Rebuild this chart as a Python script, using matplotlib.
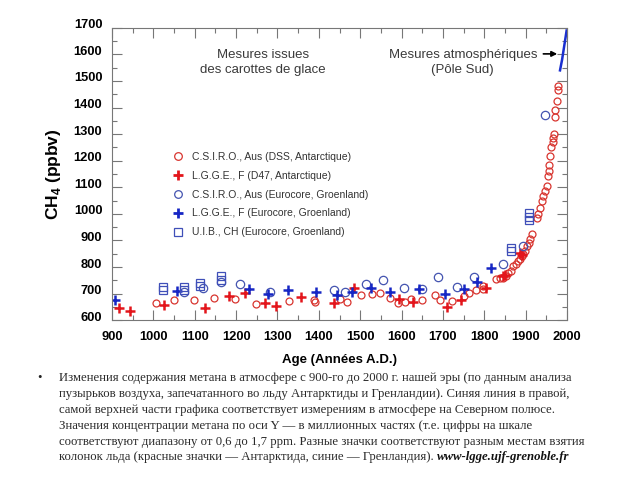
import matplotlib
matplotlib.use('Agg')
import matplotlib.pyplot as plt
from matplotlib.lines import Line2D
from matplotlib.transforms import ScaledTranslation

plt.rcParams['font.family'] = ['Liberation Sans', 'DejaVu Sans']
plt.rcParams['mathtext.fontset'] = 'custom'
plt.rcParams['mathtext.rm'] = 'Liberation Sans'
plt.rcParams['mathtext.bf'] = 'Liberation Sans:bold'

# ── data ──
csiro_dss_x = [1006, 1049, 1098, 1147, 1197, 1248, 1329, 1389, 1391, 1450, 1467, 1502,
               1529, 1549, 1572, 1592, 1608, 1622, 1650, 1681, 1693, 1723, 1751, 1763,
               1781, 1796, 1796, 1828, 1838, 1846, 1852, 1858, 1864, 1870, 1876, 1882,
               1886, 1890, 1894, 1898, 1904, 1908, 1911, 1915, 1927, 1931, 1935, 1939,
               1943, 1947, 1951, 1955, 1956, 1957, 1959, 1962, 1965, 1967, 1969, 1970,
               1972, 1975, 1977, 1979]
csiro_dss_y = [664, 676, 676, 685, 681, 662, 672, 676, 670, 680, 669, 694,
               697, 704, 682, 664, 669, 681, 675, 694, 675, 673, 691, 701,
               714, 716, 730, 756, 757, 760, 765, 779, 785, 803, 812, 822,
               830, 841, 850, 860, 879, 890, 904, 923, 985, 998, 1023, 1048,
               1066, 1085, 1104, 1141, 1160, 1185, 1218, 1250, 1270, 1287, 1300, 1365,
               1392, 1424, 1465, 1482]

lgge_d47_x = [917, 943, 1026, 1125, 1183, 1222, 1270, 1296, 1357, 1437, 1486, 1594,
              1627, 1711, 1744, 1803, 1846, 1851, 1887, 1892]
lgge_d47_y = [644, 635, 656, 647, 691, 704, 663, 654, 689, 666, 722, 679,
              670, 650, 676, 721, 767, 770, 852, 846]

csiro_euro_x = [1074, 1121, 1163, 1209, 1282, 1437, 1463, 1513, 1556, 1606, 1649, 1689,
                1733, 1775, 1844, 1893, 1947]
csiro_euro_y = [706, 722, 745, 735, 707, 712, 707, 735, 751, 720, 716, 762,
                726, 762, 810, 879, 1372]

lgge_euro_x = [907, 1056, 1230, 1276, 1325, 1393, 1445, 1479, 1526, 1572, 1641, 1705,
               1751, 1783, 1816]
lgge_euro_y = [676, 710, 719, 697, 712, 706, 695, 707, 720, 707, 716, 697,
               716, 744, 798]

uib_x = [1024, 1024, 1074, 1074, 1113, 1113, 1163, 1163, 1864, 1864, 1909, 1909, 1909]
uib_y = [715, 726, 712, 724, 728, 740, 752, 765, 861, 873, 978, 990, 1002]

atmos_x = [1983, 1988, 1993, 1999]
atmos_y = [1540, 1580, 1630, 1690]

legend_labels = ['C.S.I.R.O., Aus (DSS, Antarctique)',
                 'L.G.G.E., F (D47, Antarctique)',
                 'C.S.I.R.O., Aus (Eurocore, Groenland)',
                 'L.G.G.E., F (Eurocore, Groenland)',
                 'U.I.B., CH (Eurocore, Groenland)']

caption_lines = [
    'Изменения содержания метана в атмосфере с 900-го до 2000 г. нашей эры (по данным анализа',
    'пузырьков воздуха, запечатанного во льду Антарктиды и Гренландии). Синяя линия в правой,',
    'самой верхней части графика соответствует измерениям в атмосфере на Северном полюсе.',
    'Значения концентрации метана по оси Y — в миллионных частях (т.е. цифры на шкале',
    'соответствуют диапазону от 0,6 до 1,7 ppm. Разные значки соответствуют разным местам взятия',
    'колонок льда (красные значки — Антарктида, синие — Гренландия). ',
]
caption_link = 'www-lgge.ujf-grenoble.fr'

RED_O = '#d8352f'
RED_P = '#e3151b'
BLUE_O = '#4454b0'
BLUE_P = '#1626c4'
BLUE_S = '#3f4fb8'

fig = plt.figure(figsize=(6.4, 4.8), dpi=100)
ax = fig.add_axes([0.175, 0.333, 0.711, 0.609])

ax.plot(csiro_dss_x, csiro_dss_y, 'o', ms=5, mfc='none', mec=RED_O, mew=0.9)
ax.plot(lgge_d47_x, lgge_d47_y, '+', ms=7, mec=RED_P, mew=1.8)
ax.plot(csiro_euro_x, csiro_euro_y, 'o', ms=6, mfc='none', mec=BLUE_O, mew=0.9)
ax.plot(lgge_euro_x, lgge_euro_y, '+', ms=7, mec=BLUE_P, mew=1.8)
ax.plot(uib_x, uib_y, 's', ms=5.5, mfc='none', mec=BLUE_S, mew=0.9)
ax.plot(atmos_x, atmos_y, '-', color='#1a2fd0', lw=1.8)

ax.set_xlim(900, 2000)
ax.set_ylim(600, 1700)
ax.set_xticks(range(900, 2001, 100))
ax.set_yticks(range(600, 1701, 100))
ax.set_xticks(range(950, 2000, 100), minor=True)
ax.set_yticks(range(650, 1700, 100), minor=True)
ax.tick_params(which='both', direction='in', top=True, right=True,
               color='#777777', width=0.8)
ax.tick_params(which='major', length=7, labelsize=9.3)
ax.tick_params(axis='x', which='major', pad=8)
ax.tick_params(axis='y', which='major', pad=7)
ax.tick_params(which='minor', length=3.5)
for lab in ax.get_xticklabels() + ax.get_yticklabels():
    lab.set_fontweight('bold')
# y labels sit slightly above their ticks in the reference
for tk in ax.yaxis.get_major_ticks():
    tk.label1.set_transform(tk.label1.get_transform() +
                            ScaledTranslation(0, 0.04, fig.dpi_scale_trans))
for sp in ax.spines.values():
    sp.set_color('#777777')
    sp.set_linewidth(0.8)

ax.set_xlabel('Age (Années A.D.)', fontsize=9.5, fontweight='bold', labelpad=8)
ax.set_ylabel(r'CH$_\mathbf{4}$ (ppbv)', fontsize=12.5, fontweight='bold', labelpad=8)

# legend
handles = [
    Line2D([], [], ls='none', marker='o', ms=5.5, mfc='none', mec=RED_O, mew=0.9),
    Line2D([], [], ls='none', marker='+', ms=7, mec=RED_P, mew=2),
    Line2D([], [], ls='none', marker='o', ms=5.5, mfc='none', mec=BLUE_O, mew=0.9),
    Line2D([], [], ls='none', marker='+', ms=7, mec=BLUE_P, mew=2),
    Line2D([], [], ls='none', marker='s', ms=6, mfc='none', mec=BLUE_S, mew=0.9),
]
leg = ax.legend(handles, legend_labels, loc='upper left', bbox_to_anchor=(0.124, 0.59),
                frameon=False, fontsize=7.5, labelspacing=0.85, handlelength=1.0,
                handletextpad=0.9, borderaxespad=0)
for t in leg.get_texts():
    t.set_color('#333333')

# annotations
ax.text(1265, 1570, 'Mesures issues\ndes carottes de glace', ha='center', va='center',
        fontsize=9.5, color='#3a3a3a', linespacing=1.4)
ax.text(1748, 1570, 'Mesures atmosphériques\n(Pôle Sud)', ha='center', va='center',
        fontsize=9.5, color='#3a3a3a', linespacing=1.4)
ax.annotate('', xy=(1983, 1602), xytext=(1936, 1602),
            arrowprops=dict(arrowstyle='-|>', color='black', lw=1.2, mutation_scale=8))

# caption below
serif = ['Liberation Serif', 'DejaVu Serif']
fig.text(37 / 640, 1 - 378 / 480, '•', fontsize=9, family=serif, color='#222222',
         va='center')
line_y = [378, 394, 410, 426, 442, 457]
last = None
for txt, y in zip(caption_lines, line_y):
    last = fig.text(59 / 640, 1 - y / 480, txt, fontsize=9.2, family=serif,
                    color='#2a2a2a', va='center')
fig.add_artist(plt.Annotation(caption_link, xy=(1, 0.5), xycoords=last, va='center',
                              ha='left', fontsize=9.2, family=serif, fontweight='bold',
                              style='italic', color='#111111'))

fig.savefig('out.png', dpi=100, facecolor='white')
